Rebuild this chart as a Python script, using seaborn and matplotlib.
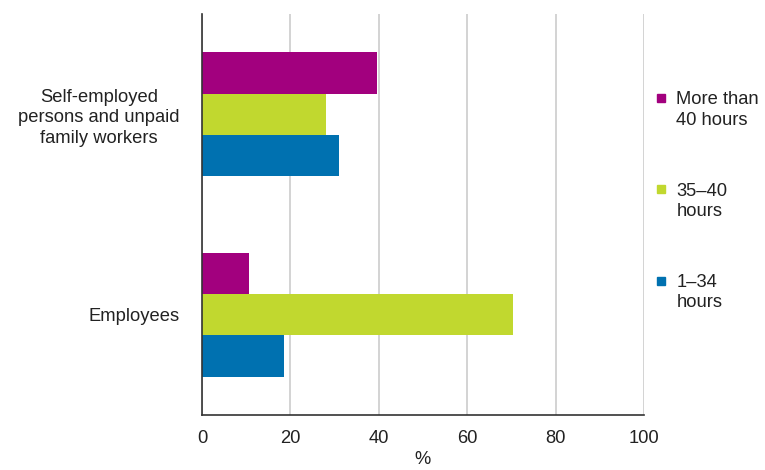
import pandas as pd
import matplotlib.pyplot as plt
from matplotlib.lines import Line2D
import seaborn as sns

# Data
groups = ["Self-employed\npersons and unpaid\nfamily workers", "Employees"]
hours = ["More than\n40 hours", "35\u201340\nhours", "1\u201334\nhours"]
more_than_40 = [39.7, 10.7]
h35_40 = [28.0, 70.4]
h1_34 = [31.0, 18.6]
colors = ["#a2007e", "#c1d82f", "#0071b0"]

df = pd.DataFrame({
    "group": groups * 3,
    "hours": [h for h in hours for _ in groups],
    "value": more_than_40 + h35_40 + h1_34,
})

sns.set_style("white")
plt.rcParams["font.family"] = ["Liberation Sans", "DejaVu Sans"]
fs = 13.2

fig = plt.figure(figsize=(7.65, 4.70), dpi=100)
ax = fig.add_axes([202 / 765, 1 - 415 / 470, 442 / 765, 401 / 470])

sns.barplot(data=df, y="group", x="value", hue="hours", order=groups,
            hue_order=hours, palette=colors, saturation=1, orient="h", width=0.62,
            linewidth=0, ax=ax, legend=False)

ax.set_xlim(0, 100)
ax.set_ylim(1.5, -0.5)
ax.set_xticks(range(0, 101, 20))
ax.grid(axis="x", color="#cccccc", linewidth=1.2)
ax.set_axisbelow(True)
ax.set_ylabel("")
ax.set_xlabel("%", fontsize=fs, color="#222222", labelpad=3)
for side in ["top", "right"]:
    ax.spines[side].set_visible(False)
for side in ["left", "bottom"]:
    ax.spines[side].set_color("#333333")
    ax.spines[side].set_linewidth(1.2)
ax.tick_params(axis="both", length=0, labelsize=fs, colors="#222222")
ax.tick_params(axis="x", pad=11)
ax.tick_params(axis="y", pad=16)
for lab in ax.get_yticklabels():
    lab.set_multialignment("center")
    lab.set_linespacing(1.25)

handles = [Line2D([], [], marker="s", linestyle="", markersize=6,
                  markerfacecolor=c, markeredgecolor=c) for c in colors]
leg = fig.legend(handles, hours, loc="upper left", bbox_to_anchor=(635 / 765, 1 - 75 / 470),
                 frameon=False, fontsize=fs, labelspacing=2.95, handletextpad=0.35,
                 handlelength=1.0)
for t in leg.get_texts():
    t.set_linespacing(1.25)
    t.set_color("#222222")
# put each marker next to the first line of its label
for col in leg._legend_handle_box.get_children():
    for row in col.get_children():
        row.align = "top"

fig.savefig("out.png", dpi=100)
